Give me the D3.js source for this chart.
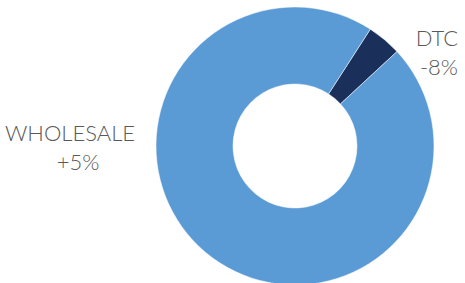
<!DOCTYPE html>
<html>
<head>
<meta charset="utf-8">
<script src="https://cdn.jsdelivr.net/npm/d3@7"></script>
<style>
  body { margin: 0; background: #fff; }
  text { font-family: Lato, "Open Sans", sans-serif; font-weight: 300; fill: #595959; }
</style>
</head>
<body>
<script>
// data
var categories = ["DTC", "WHOLESALE"];
var shares = [4, 96];
var growth = ["-8%", "+5%"];
var colors = ["#1B2F5B", "#5B9BD5"];

var width = 465, height = 283;
var cx = 295, cy = 146;
var outerR = 139, innerR = 62;
var rot = 32.8 * Math.PI / 180;

var svg = d3.select("body").append("svg")
    .attr("width", width)
    .attr("height", height);

var pie = d3.pie().sort(null).startAngle(rot).endAngle(rot + 2 * Math.PI);
var arc = d3.arc().innerRadius(innerR).outerRadius(outerR);

var g = svg.append("g").attr("transform", "translate(" + cx + "," + cy + ")");
g.selectAll("path")
    .data(pie(shares))
    .enter().append("path")
    .attr("d", arc)
    .attr("fill", function(d, i){ return colors[i]; })
    .attr("stroke", "#fff")
    .attr("stroke-width", 0.5);

// labels
var labelPos = [{x: 437, y: 46}, {x: 70, y: 141}];
var labels = svg.selectAll("g.lbl")
    .data(categories)
    .enter().append("g")
    .attr("class", "lbl");
labels.append("text")
    .attr("x", function(d, i){ return labelPos[i].x; })
    .attr("y", function(d, i){ return labelPos[i].y; })
    .attr("text-anchor", "middle")
    .style("font-size", "22px")
    .text(function(d){ return d; });
labels.append("text")
    .attr("x", function(d, i){ return labelPos[i].x + (i == 0 ? 2 : 8); })
    .attr("y", function(d, i){ return labelPos[i].y + 29; })
    .attr("text-anchor", "middle")
    .style("font-size", "22px")
    .text(function(d, i){ return growth[i]; });
</script>
</body>
</html>
